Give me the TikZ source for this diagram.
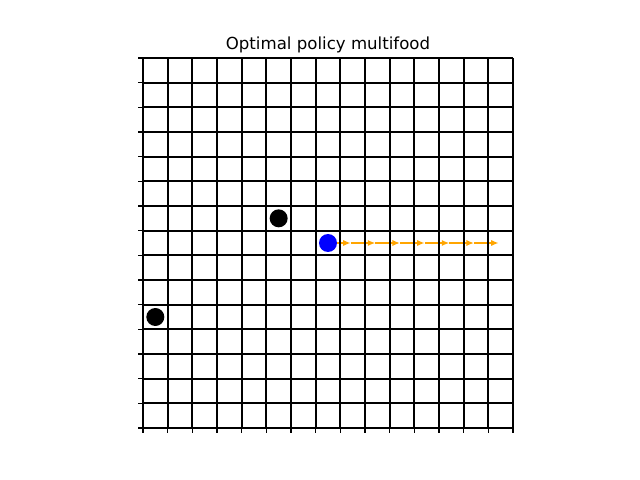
\documentclass[tikz,border=0pt]{standalone}
\usepackage{fontspec}
\setmainfont{DejaVu Sans}
\usetikzlibrary{arrows.meta,positioning}

\definecolor{mplorange}{RGB}{255,165,0}

\begin{document}
\begin{tikzpicture}[
			x=0.254mm, y=-0.254mm,
			font=\fontsize{12}{14}\selectfont,
			gridline/.style={line width=1.65pt,black},
			spine/.style={line width=0.8pt,black},
			tickline/.style={line width=0.8pt,black},
			food/.style={circle,fill=black,minimum size=13pt,inner sep=0pt},
			agent/.style={circle,fill=blue,minimum size=13pt,inner sep=0pt},
			move/.style={-{Latex[length=5.5pt,width=4.5pt]},line width=1.3pt,
				draw=mplorange},
			]
			\useasboundingbox (0,0) rectangle (640,480);
			
			% Title
			\node[anchor=base] (title) at (328,49.5) {Optimal policy multifood};
			
			\begin{scope}[shift={(143,58)},x=6.2653mm,y=-6.2653mm]
				% Agent
				\node[agent] (agent) at (7.5,7.5) {};
				
				% Policy arrows
				\foreach \c in {8,...,14}
				\coordinate (m\c) at (\c+0.42,7.5);
				\draw[move] (agent) -- (m8);
				\foreach \c [evaluate=\c as \n using int(\c+1)] in {8,...,13}
				\draw[move] (m\c) -- (m\n);
				
				% Grid
				\foreach \k in {0,...,15}{
					\draw[gridline] (\k,0) -- (\k,15);
					\draw[tickline] (0,\k) -- ++(-3.5pt,0);
					\draw[tickline] (\k,15) -- ++(0,-3.5pt);
				}
				\foreach \k in {1,...,15}
				\draw[gridline] (0,\k) -- (15,\k);
				\draw[spine] (0,0) -- (15,0);
				
				% Food
				\node[food] (food1) at (5.5,6.5) {};
				\node[food] (food2) at (0.5,10.5) {};
			\end{scope}
			
		\end{tikzpicture}
\end{document}
